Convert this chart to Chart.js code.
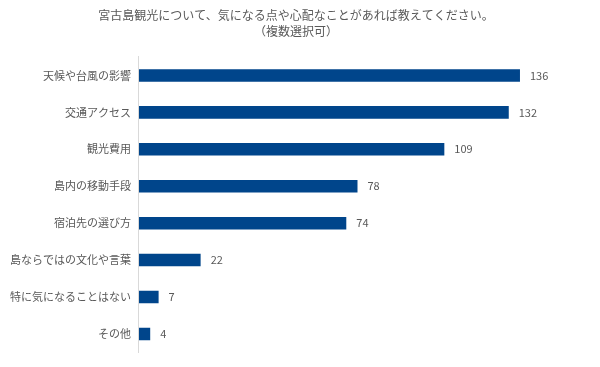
<!DOCTYPE html>
<html>
<head>
<meta charset="utf-8">
<script src="https://cdn.jsdelivr.net/npm/chart.js@4"></script>
<style>
  html, body { margin: 0; padding: 0; background: #fff; }
  #wrap { width: 600px; height: 367px; }
</style>
</head>
<body>
<div id="wrap"><canvas id="barChart"></canvas></div>
<script>
const categories = ['天候や台風の影響', '交通アクセス', '観光費用', '島内の移動手段', '宿泊先の選び方', '島ならではの文化や言葉', '特に気になることはない', 'その他'];
const counts = [136, 132, 109, 78, 74, 22, 7, 4];
const titleLines = ['宮古島観光について、気になる点や心配なことがあれば教えてください。', '（複数選択可）'];

const fontFamily = '"Noto Sans CJK JP", "Noto Sans", sans-serif';
const textColor = '#595959';

// value labels at the end of each bar
const valueLabels = {
    id: 'valueLabels',
    afterDatasetsDraw(chart) {
        const ctx = chart.ctx;
        const meta = chart.getDatasetMeta(0);
        ctx.save();
        ctx.font = '11px ' + fontFamily;
        ctx.fillStyle = textColor;
        ctx.textAlign = 'left';
        ctx.textBaseline = 'middle';
        meta.data.forEach((bar, i) => {
            ctx.fillText(counts[i], bar.x + 10, bar.y);
        });
        ctx.restore();
    }
};

const ctx = document.getElementById('barChart').getContext('2d');
new Chart(ctx, {
    type: 'bar',
    data: {
        labels: categories,
        datasets: [{
            data: counts,
            backgroundColor: '#00458B',
            borderWidth: 0,
            categoryPercentage: 1,
            barPercentage: 0.34
        }]
    },
    options: {
        indexAxis: 'y',
        responsive: true,
        maintainAspectRatio: false,
        animation: false,
        layout: { padding: { left: 2, right: 10, top: 0, bottom: 14 } },
        plugins: {
            legend: { display: false },
            tooltip: { enabled: false },
            title: {
                display: true,
                text: titleLines,
                color: textColor,
                font: { family: fontFamily, size: 12, weight: 'normal', lineHeight: 1.333 },
                padding: { top: 7, bottom: 18 }
            }
        },
        scales: {
            x: {
                display: false,
                min: 0,
                max: 161
            },
            y: {
                grid: { display: false, drawTicks: false },
                border: { display: true, color: '#d9d9d9', width: 1 },
                ticks: {
                    color: textColor,
                    padding: 8,
                    font: { family: fontFamily, size: 11 }
                }
            }
        }
    },
    plugins: [valueLabels]
});
</script>
</body>
</html>
